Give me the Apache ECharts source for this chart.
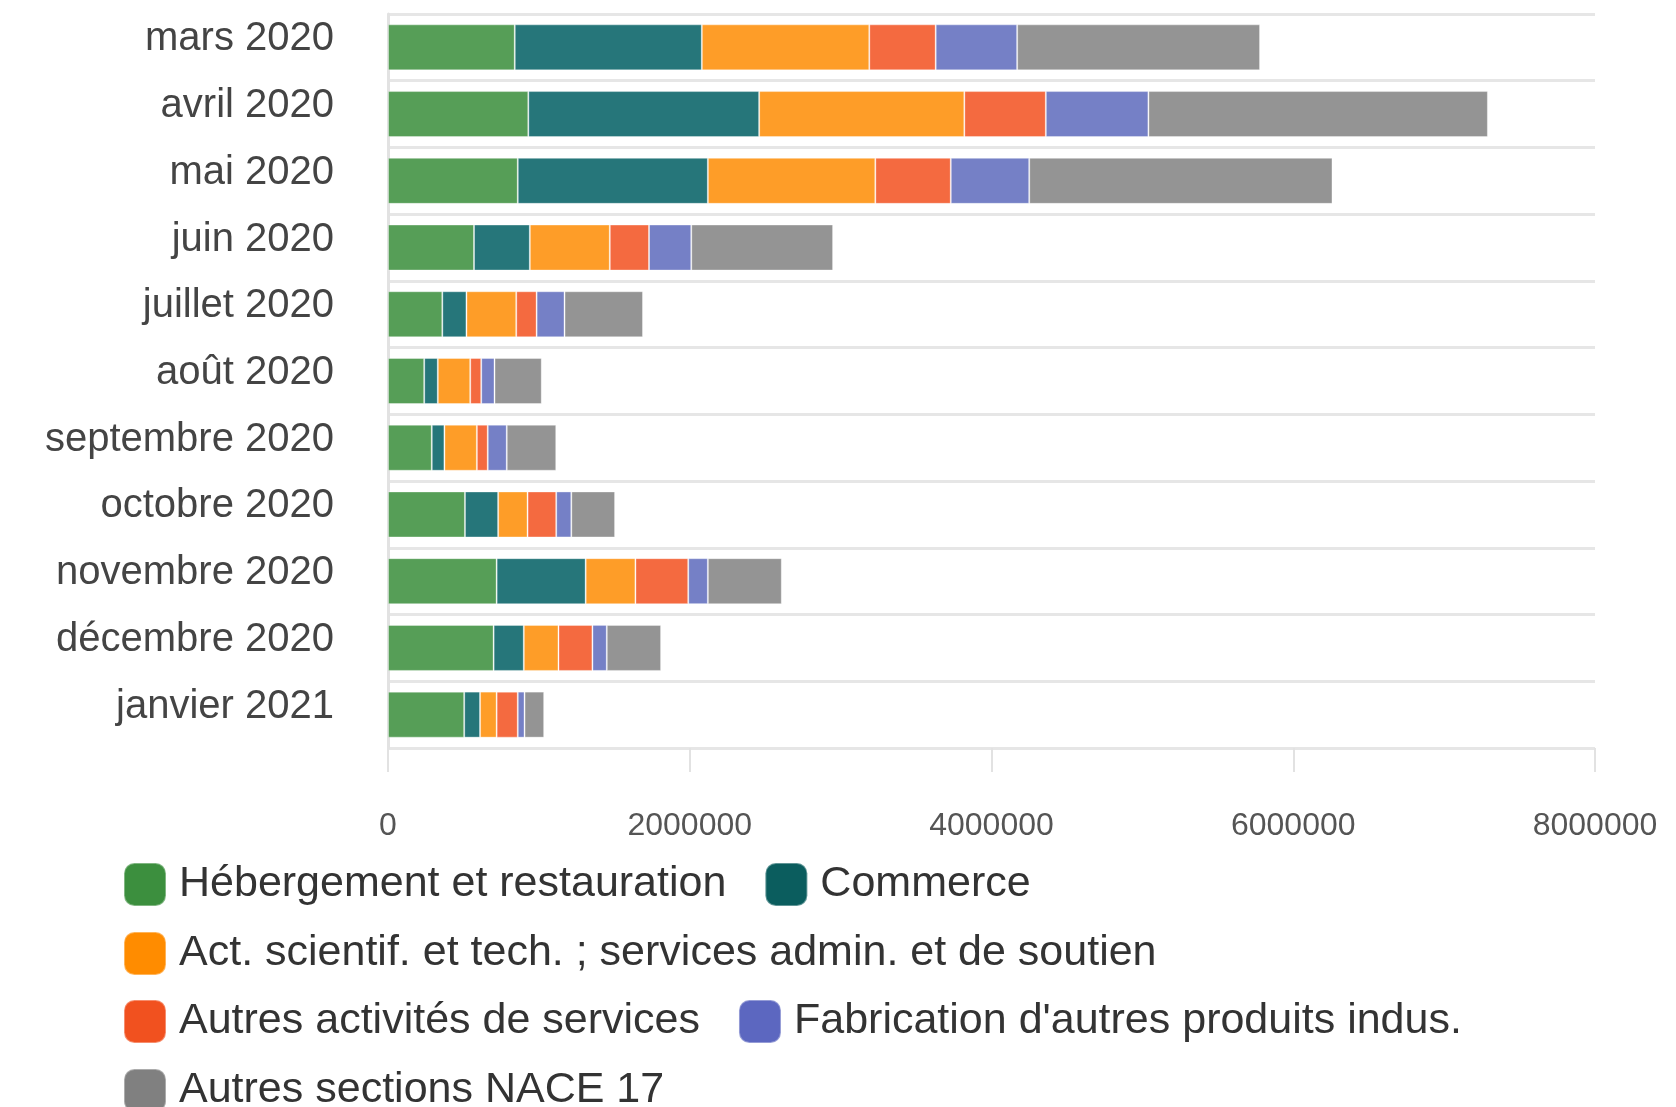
<!DOCTYPE html>
<html>
<head>
<meta charset="utf-8">
<script src="https://cdn.jsdelivr.net/npm/echarts@6/dist/echarts.min.js"></script>
<style>html,body{margin:0;padding:0;background:#fff;}#c{width:1676px;height:1107px;}</style>
</head>
<body>
<div id="c"></div>
<script>
const categories = ['mars 2020','avril 2020','mai 2020','juin 2020','juillet 2020','août 2020','septembre 2020','octobre 2020','novembre 2020','décembre 2020','janvier 2021'];
const seriesNames = ['Hébergement et restauration','Commerce','Act. scientif. et tech. ; services admin. et de soutien','Autres activités de services',"Fabrication d'autres produits indus.",'Autres sections NACE 17'];
const hebergement = [840000, 930000, 860000, 570000, 360000, 240000, 290000, 510000, 720000, 700000, 505000];
const commerce = [1240000, 1530000, 1260000, 370000, 160000, 90000, 84000, 220000, 590000, 200000, 105000];
const actScientif = [1110000, 1360000, 1110000, 530000, 330000, 215000, 215000, 195000, 330000, 230000, 110000];
const autresActivites = [440000, 540000, 500000, 260000, 135000, 73000, 72000, 190000, 350000, 225000, 140000];
const fabrication = [540000, 680000, 520000, 280000, 185000, 88000, 126000, 100000, 130000, 95000, 45000];
const autresSections = [1610000, 2250000, 2010000, 940000, 520000, 313000, 328000, 290000, 490000, 360000, 130000];
const xTicks = [0, 2000000, 4000000, 6000000, 8000000];

const seriesData = [hebergement, commerce, actScientif, autresActivites, fabrication, autresSections];
const barColors = ['#569e57','#26767a','#fe9d28','#f46a40','#7580c6','#949494'];
const legendColors = ['#3c8f3e','#0b5d5e','#ff8c00','#f1511f','#5c67c0','#808080'];

const chart = echarts.init(document.getElementById('c'));
const FONT = '"Liberation Sans", Arial, Helvetica, sans-serif';

function legendRow(idxs, top) {
  return {
    left: 123, top: top, orient: 'horizontal', padding: 0,
    itemWidth: 42, itemHeight: 43, itemGap: 38, icon: 'roundRect',
    selectedMode: false,
    textStyle: { fontSize: 43, color: '#333', fontFamily: FONT, padding: [0, 0, 0, 8] },
    data: idxs.map(i => ({ name: seriesNames[i], itemStyle: { color: legendColors[i] } }))
  };
}

chart.setOption({
  animation: false,
  textStyle: { fontFamily: FONT },
  grid: { left: 388, right: 81, top: 14, bottom: 359, containLabel: false },
  legend: [
    legendRow([0, 1], 862),
    legendRow([2], 931),
    legendRow([3, 4], 999),
    legendRow([5], 1068)
  ],
  xAxis: {
    type: 'value', min: xTicks[0], max: xTicks[xTicks.length - 1], interval: xTicks[1] - xTicks[0],
    axisLine: { show: false },
    axisTick: { show: true, length: 24, lineStyle: { color: '#e2e2e2', width: 2 } },
    splitLine: { show: false },
    axisLabel: { fontSize: 32, color: '#555', margin: 62, fontFamily: FONT, formatter: v => String(v) }
  },
  yAxis: {
    type: 'category', data: categories, inverse: true,
    axisLine: { show: true, lineStyle: { color: '#e2e2e2', width: 3 } },
    axisTick: { show: false },
    splitLine: { show: true, lineStyle: { color: '#e6e6e6', width: 3 } },
    axisLabel: { fontSize: 40, color: '#444', margin: 54, fontFamily: FONT, verticalAlign: 'bottom', lineHeight: 16 }
  },
  series: seriesData.map((d, i) => ({
    name: seriesNames[i], type: 'bar', stack: 'total', data: d, barWidth: 46,
    itemStyle: { color: barColors[i], borderColor: 'rgba(255,255,255,0.35)', borderWidth: 1 }
  }))
});
</script>
</body>
</html>
